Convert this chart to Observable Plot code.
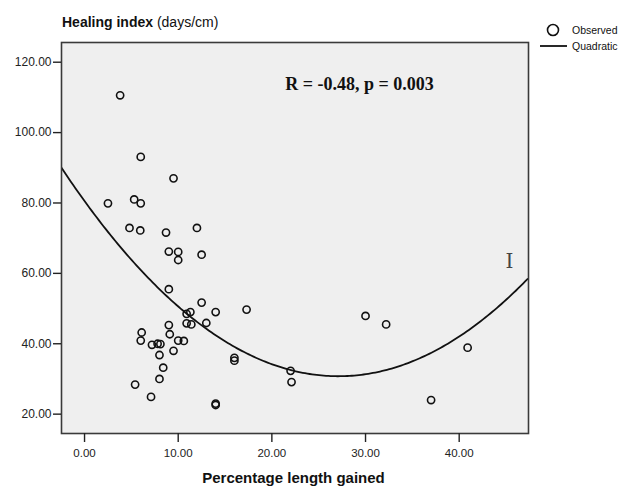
<!DOCTYPE html>
<html><head><meta charset="utf-8">
<script src="https://cdn.jsdelivr.net/npm/d3@7"></script>
<script src="https://cdn.jsdelivr.net/npm/@observablehq/plot@0.6"></script>
<style>
body{margin:0;background:#fff;font-family:Arial,"Liberation Sans",sans-serif}
#wrap{position:relative;width:627px;height:489px}
#wrap svg{position:absolute;left:0;top:0}
.title{position:absolute;left:62px;top:14px;font-size:14px;color:#111}
.title b{font-weight:bold}
.xlabel{position:absolute;left:0;width:587px;top:469px;text-align:center;font-size:15px;font-weight:bold;color:#111}
.legend{position:absolute;left:536px;top:22px;font-size:10.5px;color:#111;line-height:16px}
.legend div{display:flex;align-items:center}
.legend svg{position:static !important;margin-right:4px}
</style></head><body>
<div id="wrap">
  <div class="title"><b>Healing index</b> (days/cm)</div>
  <div class="xlabel">Percentage length gained</div>
  <div class="legend">
    <div><svg width="32" height="16"><circle cx="17" cy="8" r="5.5" fill="none" stroke="#111" stroke-width="1.6"/></svg>Observed</div>
    <div><svg width="32" height="16"><line x1="4" x2="31" y1="8" y2="8" stroke="#111" stroke-width="1.8"/></svg>Quadratic</div>
  </div>
</div>
<script>
// Percentage length gained (x) and healing index in days/cm (y)
const lengthGained = [3.8, 6.0, 9.5, 2.5, 5.3, 6.0, 4.8, 5.95, 8.7, 12.0,
  9.0, 10.0, 10.0, 12.5, 9.0, 12.5, 10.9, 11.3, 10.9, 11.4,
  13.0, 14.0, 17.3, 9.0, 9.1, 6.1, 6.0, 7.2, 7.8, 8.1,
  10.0, 10.6, 9.5, 8.0, 8.4, 8.0, 5.4, 7.1, 16.0, 16.0,
  22.0, 22.1, 14.0, 14.0, 30.0, 32.2, 40.9, 37.0];
const healingIndex = [110.6, 93.1, 87.0, 79.9, 81.0, 79.9, 72.9, 72.2, 71.6, 72.9,
  66.2, 66.1, 63.8, 65.3, 55.5, 51.7, 48.5, 49.0, 45.8, 45.5,
  45.9, 49.0, 49.7, 45.3, 42.7, 43.2, 40.9, 39.7, 40.0, 39.9,
  40.9, 40.8, 38.0, 36.8, 33.2, 30.0, 28.4, 24.9, 36.0, 35.2,
  32.3, 29.1, 23.0, 22.6, 47.9, 45.5, 38.9, 24.0];
const xTicks = [0, 10, 20, 30, 40];
const yTicks = [20, 40, 60, 80, 100, 120];
const statText = ["R = -0.48, p = 0.003"];

const points = lengthGained.map((x, i) => ({x, y: healingIndex[i]}));

// least-squares quadratic fit of the observed points
function quadFit(xs, ys) {
  const S = [0,0,0,0,0], T = [0,0,0];
  xs.forEach((x, i) => {
    for (let k = 0; k < 5; k++) S[k] += x ** k;
    for (let k = 0; k < 3; k++) T[k] += ys[i] * x ** k;
  });
  const A = [[S[0],S[1],S[2],T[0]],[S[1],S[2],S[3],T[1]],[S[2],S[3],S[4],T[2]]];
  for (let c = 0; c < 3; c++) {
    for (let r = c + 1; r < 3; r++) {
      const f = A[r][c] / A[c][c];
      for (let k = c; k < 4; k++) A[r][k] -= f * A[c][k];
    }
  }
  const b = [0,0,0];
  for (let r = 2; r >= 0; r--) {
    let s = A[r][3];
    for (let k = r + 1; k < 3; k++) s -= A[r][k] * b[k];
    b[r] = s / A[r][r];
  }
  return b;
}
const coef = quadFit(lengthGained, healingIndex);
const xDomain = [-2.46, 47.4];
const curve = d3.range(xDomain[0], xDomain[1] + 0.01, 0.25).map(x => ({x, y: coef[0] + coef[1]*x + coef[2]*x*x}));

const chart = Plot.plot({
  width: 627, height: 489,
  marginLeft: 61, marginRight: 99, marginTop: 42, marginBottom: 56,
  x: {domain: xDomain},
  y: {domain: [14.5, 125.6]},
  style: {background: "transparent", fontFamily: "Arial, 'Liberation Sans', sans-serif", fontSize: "11px", color: "#222"},
  marks: [
    Plot.frame({fill: "#efefef", stroke: null}),
    Plot.line(curve, {x: "x", y: "y", stroke: "#111", strokeWidth: 1.8, clip: true}),
    Plot.dot(points, {x: "x", y: "y", r: 3.6, stroke: "#111", strokeWidth: 1.6, fill: "none"}),
    Plot.frame({stroke: "#3a3a3a", strokeWidth: 1.6}),
    Plot.axisX({ticks: xTicks, tickFormat: d => d.toFixed(2), tickSize: 9, tickPadding: 6, label: null, stroke: "#222", strokeWidth: 1.4, fontSize: 11.5, letterSpacing: "-0.5px"}),
    Plot.axisY({ticks: yTicks, tickFormat: d => d.toFixed(2), tickSize: 8, tickPadding: 2, label: null, stroke: "#222", strokeWidth: 1.4, fontSize: 12, letterSpacing: "-0.6px"}),
    Plot.text(statText, {text: d => d, frameAnchor: "top-left", dx: 298, dy: 35, textAnchor: "middle", fontFamily: "'Liberation Serif', 'Times New Roman', serif", fontSize: 18, fontWeight: "bold", fill: "#111"}),
    Plot.text(["I"], {text: d => d, frameAnchor: "top-left", dx: 448, dy: 211, textAnchor: "middle", fontFamily: "'DejaVu Serif', serif", fontSize: 20, fill: "#444"})
  ]
});
document.getElementById("wrap").prepend(chart);
</script>
</body></html>
